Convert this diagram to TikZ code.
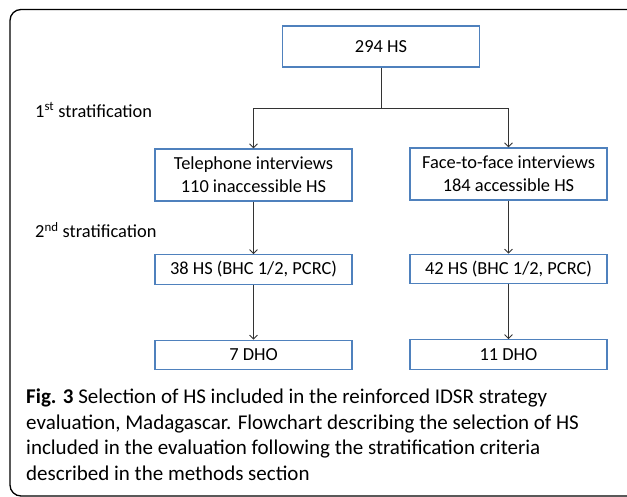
\documentclass[tikz,border=0pt]{standalone}
\usepackage{fontspec}
\setmainfont{Carlito}
\usepackage{xcolor}
\usepackage{tikz}
\usetikzlibrary{arrows.meta}
\definecolor{boxblue}{HTML}{4F81BD}
\tikzset{%
    every box/.style={
            rectangle,
            draw=boxblue,
            line width=1.3pt,
            minimum width=197pt,
            inner sep=0pt,
            align=center,
            font=\fontsize{18.4}{23}\selectfont
        },
    box tall/.style={minimum height=52pt},
    box mid/.style={minimum height=41pt},
    box low/.style={minimum height=29.5pt},
    strat label/.style={
            anchor=west,
            inner sep=0pt,
            font=\fontsize{18.4}{23}\selectfont
        },
}

\begin{document}
\begin{tikzpicture}[x=1pt, y=-1pt, >={Straight Barb[length=4pt,width=8pt]}]

        \clip (0,0) rectangle (627,497);
        \draw [line width=1.3pt, rounded corners=11pt] (660,9.5) -- (10,9.5) -- (10,496) -- (660,496);

        \node [every box/.try, box mid] (hs) at (381,46.5) {294 HS};

        \node [every box/.try, box tall] (tel) at (253.5,175) {Telephone interviews\\110 inaccessible HS};
        \node [every box/.try, box tall] (face) at (508.5,174) {Face-to-face interviews\\184 accessible HS};

        \node [every box/.try, box low] (tel-hs) at (253.5,269.5) {38 HS (BHC 1/2, PCRC)};
        \node [every box/.try, box low] (face-hs) at (508.5,269) {42 HS (BHC 1/2, PCRC)};

        \node [every box/.try, box low] (tel-dho) at (253.5,355) {7 DHO};
        \node [every box/.try, box low] (face-dho) at (508.5,354.5) {11 DHO};

        \foreach \l/\y [count=\i] in {st/110, nd/230}
        \node [strat label] (strat-\i) at (35,\y) {\i\textsuperscript{\l} stratification};

        \coordinate (split) at (381,108);
        \draw [line width=0.8pt, black!80] (hs) -- (split);
        \foreach \t in {tel, face}
        \draw [->, line width=0.8pt, black!80] (split) -| (\t);

        \foreach \t in {tel, face}
        {
        \draw [->, line width=0.8pt, black!80] (\t) -- (\t-hs);
        \draw [->, line width=0.8pt, black!80] (\t-hs) -- (\t-dho);
        }

        \node [anchor=north west, inner sep=0pt, align=left,
               font=\fontsize{21}{25.5}\selectfont] (caption) at (26,389)
            {\textbf{Fig. 3} Selection of HS included in the reinforced IDSR strategy\\
             evaluation, Madagascar. Flowchart describing the selection of HS\\
             included in the evaluation following the stratification criteria\\
             described in the methods section};

    \end{tikzpicture}
\end{document}
